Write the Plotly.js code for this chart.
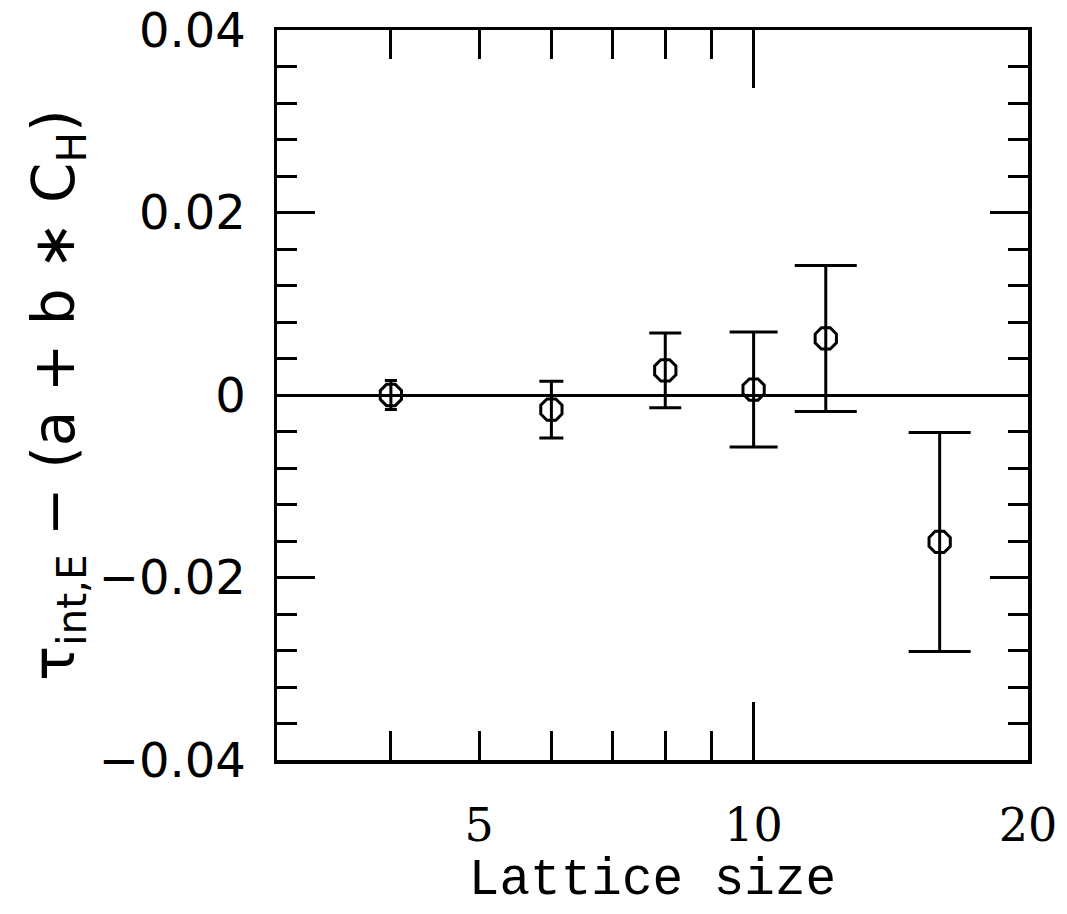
<!DOCTYPE html>
<html>
<head>
<meta charset="utf-8">
<script src="https://cdn.plot.ly/plotly-3.0.1.min.js"></script>
<style>
  html, body { margin: 0; padding: 0; background: #fff; }
  #chart { width: 1067px; height: 914px; }
</style>
</head>
<body>
<div id="chart"></div>
<script>
// Data
const latticeSize = [4, 6, 8, 10, 12, 16];
const deviation   = [0.0000, -0.0016, 0.0027, 0.0006, 0.0062, -0.0161];
const errors      = [0.0016, 0.0031, 0.0041, 0.0063, 0.0080, 0.0120];

// Axis tick labels
const yTickVals = [-0.04, -0.02, 0, 0.02, 0.04];
const yTickText = ['\u22120.04', '\u22120.02', '0', '0.02', '0.04'];
const xLabelVals = [5, 10, 20];
const xLabelText = ['5', '10', '20'];
const xMajorTicks = [10];
const xMinorTicks = [4, 5, 6, 7, 8, 9];

// Style: error-bar cap half-widths (px)
const capHalfWidth = [6, 12, 16, 24, 31, 31];

const traces = latticeSize.map((L, i) => ({
  type: 'scatter',
  mode: 'markers',
  x: [L],
  y: [deviation[i]],
  xaxis: 'x',
  yaxis: 'y',
  marker: { symbol: 'octagon-open', size: 23, color: 'black', line: { width: 3, color: 'black' } },
  error_y: { type: 'data', array: [errors[i]], visible: true, color: 'black', thickness: 3, width: capHalfWidth[i] },
  showlegend: false,
  hoverinfo: 'x+y'
}));

// invisible companion trace so the label axis (x2) is drawn
traces.push({
  type: 'scatter', mode: 'none', x: latticeSize, y: deviation,
  xaxis: 'x2', yaxis: 'y', showlegend: false, hoverinfo: 'skip'
});

const xRange = [Math.log10(3), Math.log10(20)];

const layout = {
  width: 1067,
  height: 914,
  margin: { l: 277, r: 39, t: 30, b: 154 },
  paper_bgcolor: 'white',
  plot_bgcolor: 'white',
  showlegend: false,
  xaxis: {
    type: 'log',
    range: xRange,
    tickmode: 'array',
    tickvals: xMajorTicks,
    ticks: 'inside',
    ticklen: 58,
    tickwidth: 3,
    tickcolor: 'black',
    showticklabels: false,
    minor: { tickmode: 'array', tickvals: xMinorTicks, ticks: 'inside', ticklen: 29, tickwidth: 3, tickcolor: 'black', showgrid: false },
    showline: true,
    linewidth: 3.5,
    linecolor: 'black',
    mirror: 'ticks',
    showgrid: false,
    zeroline: false
  },
  xaxis2: {
    type: 'log',
    range: xRange,
    overlaying: 'x',
    anchor: 'y',
    side: 'bottom',
    tickmode: 'array',
    tickvals: xLabelVals,
    ticktext: xLabelText,
    ticks: '',
    ticklabelstandoff: 34,
    ticklabeloverflow: 'allow',
    showline: false,
    showgrid: false,
    zeroline: false,
    tickfont: { family: 'DejaVu Serif', size: 46, color: 'black' },
    title: { text: 'Lattice size', font: { family: 'Liberation Mono', size: 51, color: 'black' }, standoff: 0 }
  },
  yaxis: {
    range: [-0.04, 0.04],
    tickmode: 'array',
    tickvals: yTickVals,
    ticktext: yTickText,
    ticks: 'inside',
    ticklen: 38,
    tickwidth: 3,
    tickcolor: 'black',
    minor: { dtick: 0.004, ticks: 'inside', ticklen: 20, tickwidth: 3, tickcolor: 'black', showgrid: false },
    showline: true,
    linewidth: 3.5,
    linecolor: 'black',
    mirror: 'ticks',
    showgrid: false,
    zeroline: true,
    zerolinecolor: 'black',
    zerolinewidth: 3,
    tickfont: { family: 'DejaVu Sans', size: 48, color: 'black' },
    ticklabelstandoff: 18,
    ticklabeloverflow: 'allow',
    title: {
      text: '\u03c4<sub>int,E</sub> \u2212 (a + b \u2217 C<sub>H</sub>)',
      font: { family: 'DejaVu Sans', size: 58, color: 'black' },
      standoff: 6
    }
  }
};

Plotly.newPlot('chart', traces, layout, { displayModeBar: false, staticPlot: true });
</script>
</body>
</html>
